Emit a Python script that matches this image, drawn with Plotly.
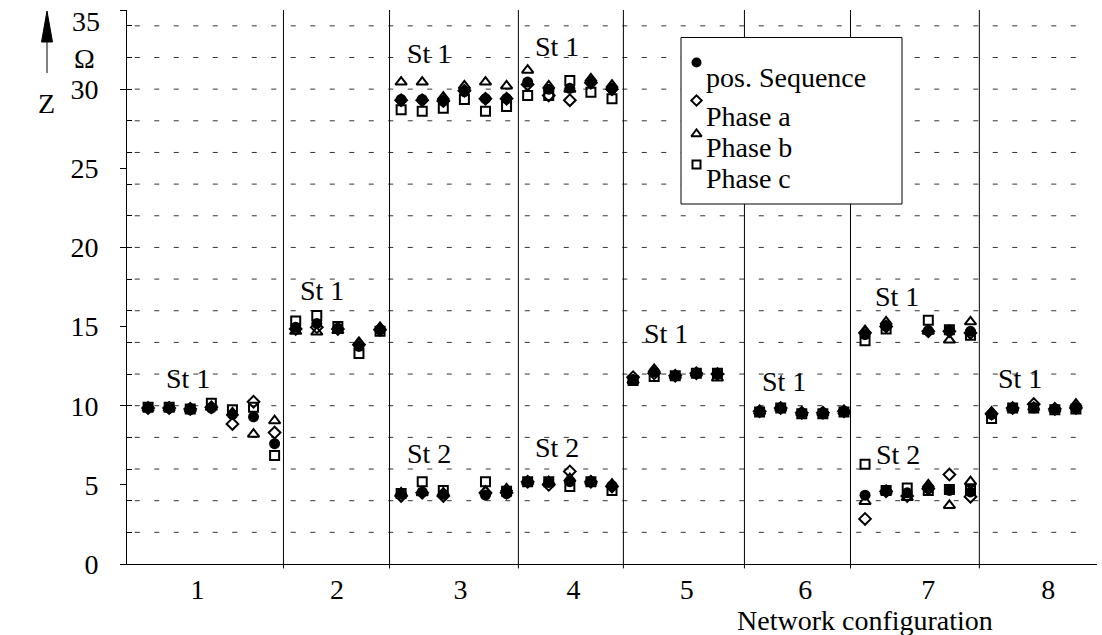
import plotly.graph_objects as go

# ---------------- data ----------------
# slot index of every measurement along the x axis (slot 29 is empty)
idx = list(range(1, 29)) + list(range(30, 46))

# St 1 values per network configuration group (7,5,6,5,5,5,6,5 points)
pos_st1 = [9.85, 9.85, 9.75, 9.85, 9.45, 9.3, 7.6,
           14.95, 15.2, 14.9, 13.75, 14.8,
           29.35, 29.35, 29.25, 29.85, 29.4, 29.4,
           30.45, 30.0, 30.05, 30.45, 30.05,
           11.65, 12.15, 11.9, 12.05, 12.0,
           9.65, 9.85, 9.55, 9.55, 9.65,
           14.5, 15.05, None, 14.75, 14.75, 14.7,
           9.45, 9.85, 9.85, 9.8, 9.85]
a_st1 = [9.85, 9.85, 9.8, 9.9, 8.85, 10.25, 8.3,
         14.85, 14.95, 14.85, 13.85, 14.8,
         29.3, 29.3, 29.25, 29.9, 29.4, 29.4,
         30.3, 29.6, 29.3, 30.4, 30.0,
         11.8, 12.05, 11.9, 12.05, 12.0,
         9.65, 9.85, 9.55, 9.55, 9.65,
         14.6, 15.0, None, 14.7, 14.7, 14.6,
         9.5, 9.85, 10.1, 9.8, 9.85]
b_st1 = [9.85, 9.85, 9.8, 9.9, 9.55, 8.2, 9.05,
         14.7, 14.65, 14.75, 14.0, 14.95,
         30.45, 30.45, 29.5, 30.2, 30.45, 30.2,
         31.2, 30.2, 30.0, 30.65, 30.25,
         11.6, 12.3, 11.9, 12.05, 11.75,
         9.65, 9.85, 9.55, 9.55, 9.65,
         14.75, 15.3, None, 14.7, 14.15, 15.3,
         9.6, 9.85, 9.9, 9.8, 10.1]
c_st1 = [9.9, 9.9, 9.8, 10.15, 9.75, 9.9, 6.85,
         15.35, 15.7, 15.0, 13.3, 14.7,
         28.7, 28.6, 28.8, 29.35, 28.6, 28.9,
         29.6, 29.6, 30.55, 29.8, 29.4,
         11.6, 11.85, 11.9, 12.05, 12.05,
         9.6, 9.85, 9.5, 9.5, 9.6,
         14.1, 14.85, None, 15.4, 14.8, 14.45,
         9.2, 9.85, 9.85, 9.75, 9.8]

# St 2 values (only groups 3, 4 and 7)
N = None
pos_st2 = [N]*7 + [N]*5 + [4.4, 4.55, 4.4, N, 4.35, 4.45] + [5.2, 5.15, 5.2, 5.2, 4.95] \
          + [N]*5 + [N]*5 + [4.35, 4.6, 4.5, 4.8, 4.65, 4.55] + [N]*5
a_st2 = [N]*7 + [N]*5 + [4.3, 4.5, 4.3, N, 4.5, 4.5] + [5.2, 5.0, 5.85, 5.2, 4.9] \
        + [N]*5 + [N]*5 + [2.85, 4.6, 4.3, 4.75, 5.65, 4.25] + [N]*5
b_st2 = [N]*7 + [N]*5 + [4.5, 4.5, 4.5, N, 4.6, 4.75] + [5.2, 5.2, 5.4, 5.2, 5.05] \
        + [N]*5 + [N]*5 + [3.95, 4.6, 4.2, 5.0, 3.7, 5.2] + [N]*5
c_st2 = [N]*7 + [N]*5 + [4.45, 5.2, 4.65, N, 5.2, 4.6] + [5.2, 5.2, 4.9, 5.2, 4.65] \
        + [N]*5 + [N]*5 + [6.3, 4.65, 4.8, 4.65, 4.7, 4.65] + [N]*5

series_names = ["pos. Sequence", "Phase a", "Phase b", "Phase c"]

# x-axis labels
group_labels = ["1", "2", "3", "4", "5", "6", "7", "8"]
group_centers = [3.34, 9.96, 15.81, 21.17, 26.55, 32.17, 38.0, 43.69]
separators = [7.42, 12.45, 18.56, 23.54, 29.28, 34.31, 40.42]

# station labels: (text, x slot, y value)
station_labels = [("St 1", 2.87, 11.75), ("St 1", 9.27, 17.3), ("St 1", 14.34, 32.28),
                  ("St 1", 20.41, 32.68), ("St 1", 25.57, 14.57), ("St 1", 31.18, 11.52),
                  ("St 1", 36.53, 16.89), ("St 1", 42.37, 11.75),
                  ("St 2", 14.34, 7.01), ("St 2", 20.41, 7.33), ("St 2", 36.58, 6.89)]

y_ticks = [0, 5, 10, 15, 20, 25, 30, 35]
y_ticktext = ["0", "5", "10", "15", "20", "25", "30", ""]
grid_vals = list(range(2, 35, 2))

# ---------------- layout helpers ----------------
W, H = 1102, 635
ML, MR, MT, MB = 127, 5, 10, 71
PW, PH = W - ML - MR, H - MT - MB
XMIN, XMAX = 0, 46
FONT = "Liberation Serif"


def px(x):
    return (x - ML) / PW


def py(y):
    return (H - MB - y) / PH


def slot2paper(s):
    return (s - XMIN) / (XMAX - XMIN)


styles = [
    dict(symbol="circle", size=11, color="black", line=dict(color="black", width=0)),
    dict(symbol="diamond-open", size=9, color="black", line=dict(color="black", width=2)),
    dict(symbol="triangle-up-open", size=10, color="black", line=dict(color="black", width=2)),
    dict(symbol="square-open", size=9, color="black", line=dict(color="black", width=2)),
]

fig = go.Figure()
st1 = [pos_st1, a_st1, b_st1, c_st1]
st2 = [pos_st2, a_st2, b_st2, c_st2]
for name, v1, v2, st in zip(series_names, st1, st2, styles):
    fig.add_trace(go.Scatter(x=idx + idx, y=v1 + v2, mode="markers", name=name,
                             marker=st, showlegend=False, cliponaxis=False))

# legend symbols drawn on a hidden pixel-space axis
leg_px_x = [696.5, 696.5, 696.5, 696.5]
leg_px_y = [62.5, 100.5, 134, 164.5]
for i, st in enumerate(styles):
    s = dict(st)
    s["size"] = st["size"] - 1
    fig.add_trace(go.Scatter(x=[leg_px_x[i]], y=[leg_px_y[i]], mode="markers", marker=s,
                             xaxis="x2", yaxis="y2", showlegend=False, hoverinfo="skip"))

shapes = []
for g in grid_vals:
    shapes.append(dict(type="line", xref="paper", yref="y", x0=0.008, x1=0.985, y0=g, y1=g,
                       line=dict(color="#333333", width=1, dash="5px,14.5px"), layer="below"))
for s in separators:
    xp = slot2paper(s)
    shapes.append(dict(type="line", xref="paper", yref="paper", x0=xp, x1=xp, y0=-0.008, y1=1,
                       line=dict(color="black", width=1), layer="between"))
# legend box
shapes.append(dict(type="rect", xref="paper", yref="paper", x0=px(681), x1=px(902),
                   y0=py(204), y1=py(37.5), fillcolor="white",
                   line=dict(color="black", width=1), layer="between"))
# Z arrow
shapes.append(dict(type="line", xref="paper", yref="paper", x0=px(47), x1=px(47),
                   y0=py(73), y1=py(38), line=dict(color="black", width=1)))
shapes.append(dict(type="path", xref="paper", yref="paper",
                   path=f"M {px(41.5)},{py(42)} L {px(47)},{py(11)} L {px(52.5)},{py(42)} Z",
                   fillcolor="black", line=dict(color="black", width=1)))

TXT = dict(family=FONT, size=28, color="black")
annotations = []
for t, xs, yv in station_labels:
    annotations.append(dict(text=t, x=xs, y=yv, xref="x", yref="y", showarrow=False,
                            xanchor="center", yanchor="middle", font=TXT))
leg_text_y = [77, 116.5, 147.5, 178.5]
for name, ty in zip(series_names, leg_text_y):
    annotations.append(dict(text=name, x=px(704), y=py(ty), xref="paper", yref="paper",
                            xanchor="left", yanchor="middle", showarrow=False, font=TXT))
annotations.append(dict(text="35", x=px(102), y=py(22), xref="paper", yref="paper",
                        xanchor="right", yanchor="middle", showarrow=False, font=TXT))
annotations.append(dict(text="Ω", x=px(84), y=py(58), xref="paper", yref="paper",
                        xanchor="center", yanchor="middle", showarrow=False, font=TXT))
annotations.append(dict(text="Z", x=px(46), y=py(104), xref="paper", yref="paper",
                        xanchor="center", yanchor="middle", showarrow=False, font=TXT))
annotations.append(dict(text="Network configuration", x=px(865), y=py(620), xref="paper",
                        yref="paper", xanchor="center", yanchor="middle", showarrow=False,
                        font=TXT))

fig.update_layout(
    width=W, height=H,
    margin=dict(l=ML, r=MR, t=MT, b=MB),
    paper_bgcolor="white", plot_bgcolor="white",
    font=dict(family=FONT, size=28, color="black"),
    showlegend=False,
    shapes=shapes, annotations=annotations,
    xaxis=dict(range=[XMIN, XMAX], showgrid=False, zeroline=False, showline=True,
               linecolor="black", linewidth=1, tickvals=group_centers, ticktext=group_labels,
               ticks="", ticklabelstandoff=0, tickfont=TXT),
    yaxis=dict(range=[0, 35], showgrid=False, zeroline=False, showline=True,
               linecolor="black", linewidth=1, tickvals=y_ticks, ticktext=y_ticktext,
               ticks="outside", ticklen=6, tickcolor="black", ticklabelstandoff=16,
               tickfont=TXT,
               minor=dict(tickvals=grid_vals, ticks="inside", ticklen=5, tickcolor="black",
                          showgrid=False)),
    xaxis2=dict(range=[ML, W - MR], overlaying="x", visible=False, anchor="y2"),
    yaxis2=dict(range=[H - MB, MT], overlaying="y", visible=False, anchor="x2"),
)

fig.write_html("out.html")
